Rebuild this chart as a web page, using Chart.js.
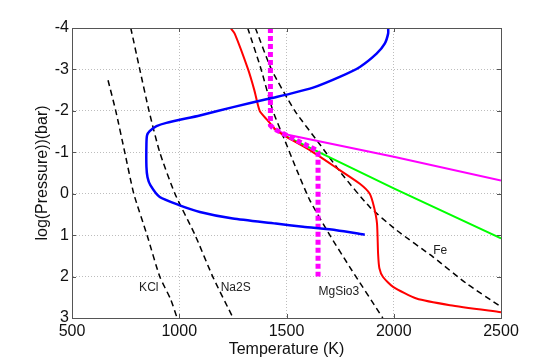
<!DOCTYPE html>
<html>
<head>
<meta charset="utf-8">
<script src="https://cdn.jsdelivr.net/npm/chart.js@4"></script>
<style>
  body { margin: 0; background: #fff; }
  #wrap { width: 554px; height: 360px; }
</style>
</head>
<body>
<div id="wrap"><canvas id="chart"></canvas></div>
<script>
// tick values
const tempTicks = [500, 1000, 1500, 2000, 2500];
const pressTicks = [-4, -3, -2, -1, 0, 1, 2, 3];

// condensation curves (black dashed)
const kclT = [668, 704, 746, 788, 850, 909, 960, 990];
const kclP = [-2.74, -2, -1, 0, 1, 2, 2.55, 3];
const na2sT = [774, 816, 859, 909, 980, 1074, 1156, 1251];
const na2sP = [-4, -3, -2, -1, 0, 1, 2, 3];
const mgsio3T = [1319, 1380, 1436, 1492, 1548, 1609, 1702, 1795, 1949];
const mgsio3P = [-4, -3.03, -2.01, -1.29, -0.57, 0.16, 1.0, 1.77, 3.0];
const feT = [1355, 1430, 1539, 1647, 1756, 1888, 2013, 2184, 2340, 2500];
const feP = [-4, -3, -2, -1.25, -0.49, 0.32, 0.88, 1.53, 2.17, 2.73];

// labels for the dashed curves
const curveNames = ['KCl', 'Na2S', 'MgSio3', 'Fe'];
const curveNameT = [858, 1263, 1744, 2217];
const curveNameP = [2.27, 2.27, 2.36, 1.38];

// profiles
const blueT = [1974, 1974, 1958, 1920, 1842, 1748, 1624, 1515, 1421, 1251, 1096, 940, 894, 862, 850, 847, 847, 852, 866, 909, 1002, 1096, 1250, 1450, 1577, 1733, 1865];
const blueP = [-4, -3.87, -3.62, -3.38, -3.06, -2.82, -2.56, -2.41, -2.3, -2.09, -1.89, -1.71, -1.63, -1.51, -1.41, -1.2, -0.65, -0.4, -0.2, 0.08, 0.28, 0.44, 0.6, 0.72, 0.8, 0.88, 0.99];
const redT = [1239, 1259, 1321, 1350, 1375, 1412, 1445, 1500, 1609, 1748, 1842, 1888, 1908, 1922, 1927, 1933, 1950, 1997, 2106, 2262, 2500];
const redP = [-4, -3.86, -3, -2.5, -2, -1.77, -1.57, -1.37, -1.05, -0.57, -0.24, 0, 0.32, 0.72, 1.45, 1.8, 2.01, 2.25, 2.53, 2.69, 2.86];
const greenT = [1480, 2000, 2500];
const greenP = [-1.43, -0.13, 1.08];
const magentaT = [1440, 1500, 2000, 2500];
const magentaP = [-1.56, -1.43, -0.89, -0.32];
const magDotT = [1425, 1425, 1440, 1500, 1640, 1647, 1647];
const magDotP = [-4, -1.65, -1.57, -1.41, -1.05, -1.0, 2.0];

const FONT = '"Liberation Sans", Arial, Helvetica, sans-serif';

function pts(xs, ys) {
    return xs.map((x, i) => ({ x: x, y: ys[i] }));
}

function line(xs, ys, color, width, dash, order, tension) {
    return {
        data: pts(xs, ys),
        borderColor: color,
        borderWidth: width,
        borderDash: dash,
        borderCapStyle: 'butt',
        showLine: true,
        pointRadius: 0,
        fill: false,
        tension: tension || 0,
        order: order
    };
}

// box around the plot, inward ticks and curve names
const boxPlugin = {
    id: 'box',
    afterDatasetsDraw(chart) {
        const { ctx, chartArea: a, scales } = chart;
        ctx.save();
        ctx.strokeStyle = '#555';
        ctx.lineWidth = 1;
        ctx.strokeRect(a.left + 0.5, a.top + 0.5, a.right - a.left, a.bottom - a.top);
        ctx.beginPath();
        tempTicks.forEach(t => {
            const x = Math.round(scales.x.getPixelForValue(t)) + 0.5;
            ctx.moveTo(x, a.bottom); ctx.lineTo(x, a.bottom - 4);
            ctx.moveTo(x, a.top); ctx.lineTo(x, a.top + 4);
        });
        pressTicks.forEach(p => {
            const y = Math.round(scales.y.getPixelForValue(p)) + 0.5;
            ctx.moveTo(a.left, y); ctx.lineTo(a.left + 4, y);
            ctx.moveTo(a.right, y); ctx.lineTo(a.right - 4, y);
        });
        ctx.stroke();

        ctx.fillStyle = '#222';
        ctx.font = '12px ' + FONT;
        ctx.textAlign = 'center';
        ctx.textBaseline = 'middle';
        curveNames.forEach((n, i) => {
            ctx.fillText(n, scales.x.getPixelForValue(curveNameT[i]), scales.y.getPixelForValue(curveNameP[i]));
        });
        ctx.restore();
    }
};

new Chart(document.getElementById('chart').getContext('2d'), {
    type: 'scatter',
    data: {
        datasets: [
            line(blueT, blueP, '#0000ff', 2.5, [], 1, 0.2),
            line(magDotT, magDotP, '#ff00ff', 5, [5, 3], 2),
            line(redT, redP, '#ff0000', 2, [], 3, 0.2),
            line(magentaT, magentaP, '#ff00ff', 2, [], 4),
            line(greenT, greenP, '#00ff00', 2, [], 5),
            line(kclT, kclP, '#000000', 1.5, [6, 4], 6, 0.2),
            line(na2sT, na2sP, '#000000', 1.5, [6, 4], 6, 0.2),
            line(mgsio3T, mgsio3P, '#000000', 1.5, [6, 4], 6, 0.2),
            line(feT, feP, '#000000', 1.5, [6, 4], 6, 0.2)
        ]
    },
    options: {
        responsive: true,
        maintainAspectRatio: false,
        animation: false,
        layout: { padding: { top: 28, right: 53, left: 0, bottom: 0 } },
        plugins: {
            legend: { display: false },
            tooltip: { enabled: false }
        },
        scales: {
            x: {
                type: 'linear',
                min: 500,
                max: 2500,
                afterBuildTicks: s => { s.ticks = tempTicks.map(v => ({ value: v })); },
                afterFit: s => { s.height = 42; },
                ticks: { color: '#111', font: { family: FONT, size: 16 }, padding: 4, maxRotation: 0, callback: v => String(v) },
                grid: { color: '#bdbdbd', drawTicks: false },
                border: { color: '#555', dash: [1, 2] },
                title: { display: true, text: 'Temperature (K)', color: '#111', font: { family: FONT, size: 16 }, padding: { top: 0, bottom: 0.4 } }
            },
            y: {
                type: 'linear',
                min: -4,
                max: 3,
                reverse: true,
                afterBuildTicks: s => { s.ticks = pressTicks.map(v => ({ value: v })); },
                afterFit: s => { s.width = 72; },
                ticks: { color: '#111', font: { family: FONT, size: 16 }, padding: 3, callback: v => String(v) },
                grid: { color: '#bdbdbd', drawTicks: false },
                border: { color: '#555', dash: [1, 2] },
                title: { display: true, text: 'log(Pressure))(bar)', color: '#111', font: { family: FONT, size: 16 }, padding: { top: 33.4, bottom: 0 } }
            }
        }
    },
    plugins: [boxPlugin]
});
</script>
</body>
</html>
